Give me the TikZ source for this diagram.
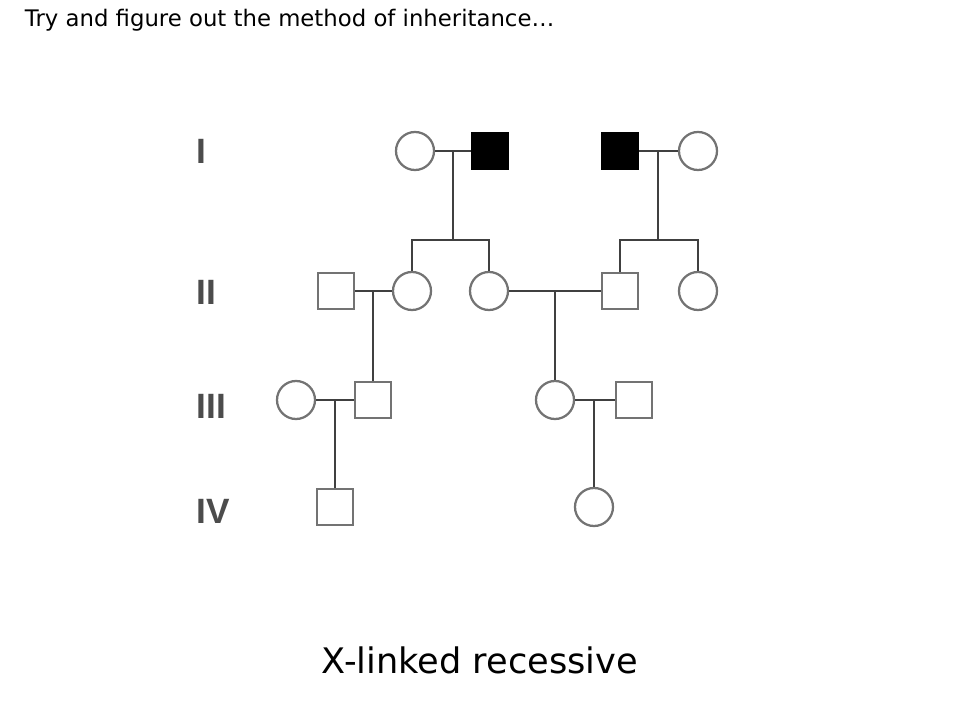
\documentclass[tikz,border=0pt]{standalone}
\usepackage{fontspec}
\setmainfont{Liberation Sans}
\newfontfamily\titlefont{DejaVu Sans}

\tikzset{
  female/.style={circle,draw=black!55,line width=1.6pt,minimum size=0.95cm,inner sep=0pt},
  male/.style={rectangle,draw=black!55,line width=1.6pt,minimum size=0.9cm,inner sep=0pt},
  affected/.style={fill=black,draw=black},
  link/.style={line width=1.8pt,draw=black!75},
  gen/.style={anchor=west,text=black!70,font=\bfseries\fontsize{25}{28}\selectfont}
}

\begin{document}
\begin{tikzpicture}[x=0.025cm,y=-0.025cm]

\useasboundingbox (0,0) rectangle (960,720);

\node [anchor=west,font=\titlefont\fontsize{16.2}{18}\selectfont] (title) at (20,20) {Try and figure out the method of inheritance\dots};

% generation labels
\node [gen] (gI) at (192,151) {I};
\node [gen] (gII) at (192,292) {II};
\node [gen] (gIII) at (192,406) {III};
\node [gen] (gIV) at (192,511) {IV};

% generation I
\node [female] (Ia) at (415,151) {};
\node [male,affected] (Ib) at (490,151) {};
\node [male,affected] (Ic) at (620,151) {};
\node [female] (Id) at (698,151) {};

% generation II
\node [male] (IIa) at (336,291) {};
\node [female] (IIb) at (412,291) {};
\node [female] (IIc) at (489,291) {};
\node [male] (IId) at (620,291) {};
\node [female] (IIe) at (698,291) {};

% generation III
\node [female] (IIIa) at (296,400) {};
\node [male] (IIIb) at (373,400) {};
\node [female] (IIIc) at (555,400) {};
\node [male] (IIId) at (634,400) {};

% generation IV
\node [male] (IVa) at (335,507) {};
\node [female] (IVb) at (594,507) {};

\coordinate (s1) at (453,240);
\coordinate (s2) at (658,240);

% marriages and children
\draw[link] (Ia.east)--(Ib.west);
\draw[link] (s1 |- Ia.east)--(s1);
\draw[link] (IIb.north)|-(IIc.north |- s1)--(IIc.north);

\draw[link] (Ic.east)--(Id.west);
\draw[link] (s2 |- Ic.east)--(s2);
\draw[link] (IId.north)|-(IIe.north |- s2)--(IIe.north);

\draw[link] (IIa.east)--(IIb.west);
\draw[link] (IIIb.north |- IIa.east)--(IIIb.north);

\draw[link] (IIc.east)--(IId.west);
\draw[link] (IIIc.north |- IIc.east)--(IIIc.north);

\draw[link] (IIIa.east)--(IIIb.west);
\draw[link] (IVa.north |- IIIa.east)--(IVa.north);

\draw[link] (IIIc.east)--(IIId.west);
\draw[link] (IVb.north |- IIIc.east)--(IVb.north);

\node [font=\titlefont\fontsize{25}{29}\selectfont] (name) at (480,660) {X-linked recessive};

\end{tikzpicture}
\end{document}
